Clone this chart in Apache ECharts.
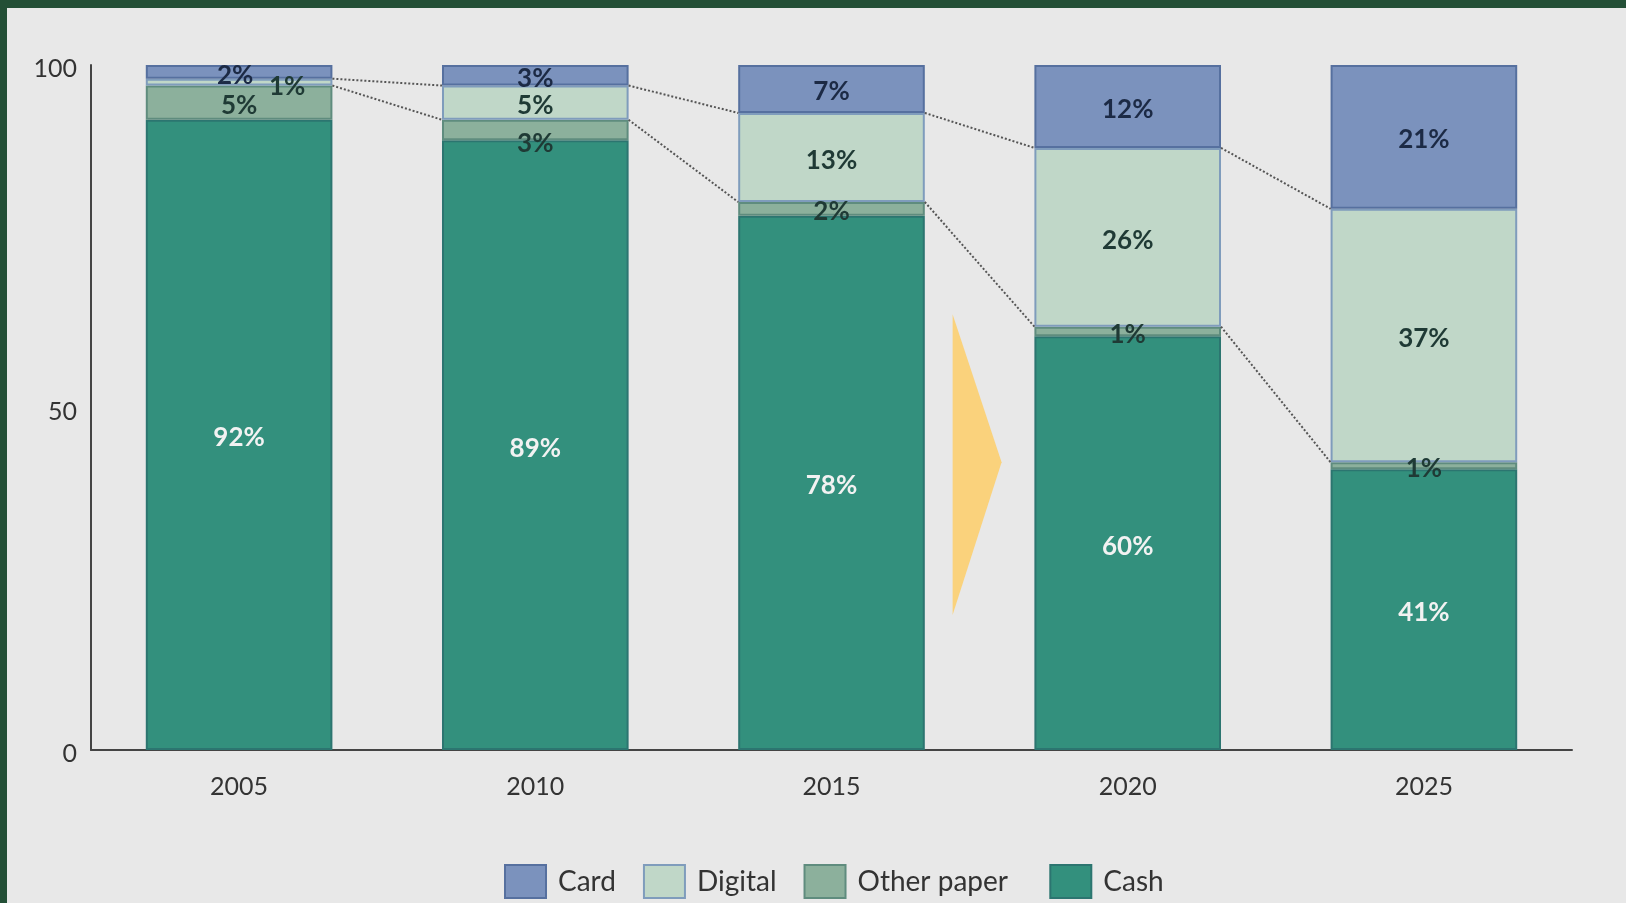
<!DOCTYPE html>
<html>
<head>
<meta charset="utf-8">
<script src="https://cdn.jsdelivr.net/npm/echarts@6/dist/echarts.min.js"></script>
<style>
  html, body { margin: 0; padding: 0; width: 1626px; height: 903px; background: #234f36; overflow: hidden; }
  #chart { position: absolute; left: 7px; top: 8px; width: 1619px; height: 895px; background: #e8e8e8; }
</style>
</head>
<body>
<div id="chart"></div>
<script>
// ---- data ----
const years = ['2005', '2010', '2015', '2020', '2025'];
const cash = [92, 89, 78, 60.4, 41];
const otherPaper = [5, 3, 2, 1.4, 1];
const digital = [1, 5, 13, 26.1, 37];
const card = [2, 3, 7, 12.1, 21];
const yTicks = [0, 50, 100];
const legendNames = ['Card', 'Digital', 'Other paper', 'Cash'];

// ---- styles ----
const FONT = 'Lato, "Open Sans", sans-serif';
const BAR_RATIO = 0.63;
const labelTweaks = {
  'Card': { 0: { offset: [-4, 4] } },
  'Digital': { 0: { offset: [48, 4] } },
  'Other paper': { 1: { offset: [0, 14] }, 0: { offset: [0, 3] } }
};

const chart = echarts.init(document.getElementById('chart'), null, { renderer: 'canvas' });

function makeSeries(name, values, color, border, textColor) {
  return {
    name: name,
    type: 'bar',
    stack: 'total',
    barCategoryGap: '37%',
    itemStyle: { color: color, borderColor: border, borderWidth: 2 },
    label: {
      show: true,
      position: 'inside',
      offset: [0, 3],
      color: textColor,
      fontFamily: FONT,
      fontSize: 26,
      fontWeight: 'bold',
      formatter: p => Math.round(p.value) + '%'
    },
    data: values.map((v, i) => {
      const t = labelTweaks[name] && labelTweaks[name][i];
      return t ? { value: v, label: t } : v;
    })
  };
}

const topDigital = years.map((_, i) => cash[i] + otherPaper[i] + digital[i]);
const topOther = years.map((_, i) => cash[i] + otherPaper[i]);

const connectors = {
  type: 'custom',
  name: 'connectors',
  z: 5,
  silent: true,
  data: years.slice(0, -1).map((_, i) => i),
  renderItem: function (params, api) {
    const i = api.value(0);
    const bw = api.size([1, 0])[0] * BAR_RATIO / 2;
    const children = [];
    [topDigital, topOther].forEach(arr => {
      const a = api.coord([i, arr[i]]);
      const b = api.coord([i + 1, arr[i + 1]]);
      children.push({
        type: 'line',
        shape: { x1: a[0] + bw, y1: a[1], x2: b[0] - bw, y2: b[1] },
        style: { stroke: '#555', lineWidth: 2, lineDash: [2, 2] }
      });
    });
    if (i === 2) {
      const c1 = api.coord([2, 0]);
      const c2 = api.coord([3, 0]);
      const mid = (c1[0] + c2[0]) / 2;
      const yTop = api.coord([2, 63.6])[1];
      const yBot = api.coord([2, 19.7])[1];
      const yApex = api.coord([2, 42])[1];
      children.push({
        type: 'polygon',
        shape: { points: [[mid - 27, yTop], [mid + 22, yApex], [mid - 27, yBot]] },
        style: { fill: '#fad27c' }
      });
    }
    return { type: 'group', children: children };
  }
};

chart.setOption({
  animation: false,
  backgroundColor: '#e8e8e8',
  textStyle: { fontFamily: FONT },
  grid: { left: 84, right: 54, top: 57, bottom: 153 },
  legend: {
    data: legendNames,
    formatter: n => n === 'Other paper' ? n + '  ' : n,
    left: 492,
    top: 851,
    icon: 'rect',
    itemWidth: 41,
    itemHeight: 33,
    itemGap: 27,
    textStyle: { fontFamily: FONT, fontSize: 28, color: '#333', padding: [0, 0, 0, 7] }
  },
  xAxis: {
    type: 'category',
    data: years,
    axisLine: { lineStyle: { color: '#444', width: 2 } },
    axisTick: { show: false },
    axisLabel: { fontFamily: FONT, fontSize: 25, color: '#333', margin: 24 }
  },
  yAxis: {
    type: 'value',
    min: yTicks[0],
    max: yTicks[yTicks.length - 1],
    interval: yTicks[1] - yTicks[0],
    axisLine: { show: true, lineStyle: { color: '#444', width: 2 } },
    axisTick: { show: false },
    splitLine: { show: false },
    axisLabel: { fontFamily: FONT, fontSize: 25, color: '#333', margin: 14, verticalAlign: 'top', lineHeight: 8 }
  },
  series: [
    makeSeries('Cash', cash, '#33907d', '#2c7570', '#f2f2f2'),
    makeSeries('Other paper', otherPaper, '#8cb09c', '#5f8c7e', '#1f3a35'),
    makeSeries('Digital', digital, '#c0d7c8', '#7f9cbc', '#1f3a35'),
    makeSeries('Card', card, '#7b92bd', '#56709f', '#1c2a45'),
    connectors
  ]
});
</script>
</body>
</html>
